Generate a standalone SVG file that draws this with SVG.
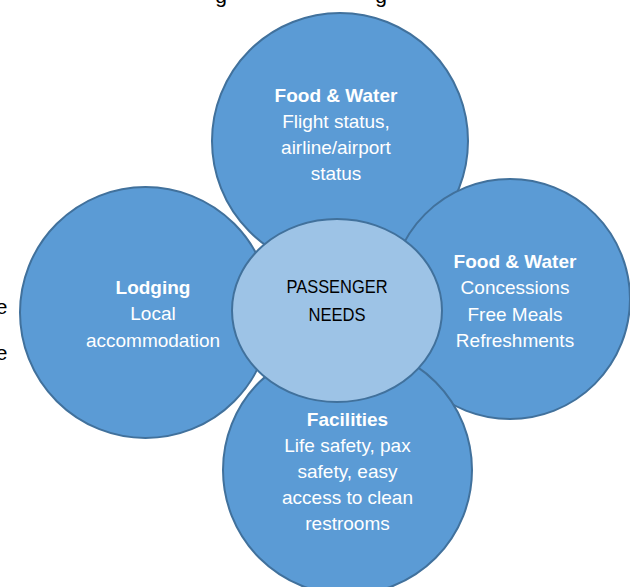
<svg xmlns="http://www.w3.org/2000/svg" width="630" height="587" viewBox="0 0 630 587">
<style>
.sat{fill:#5B9BD5;stroke:#41719C;stroke-width:2}
.hub{fill:#9DC3E6;stroke:#41719C;stroke-width:2}
.t{font-family:"Liberation Sans",Arial,sans-serif;font-size:19px;fill:#FFFFFF;text-anchor:middle}
.b{font-weight:bold}
.c{font-family:"Liberation Sans",Arial,sans-serif;font-size:18px;fill:#000000;text-anchor:middle}
.doc{font-family:"Liberation Sans",Arial,sans-serif;font-size:21px;fill:#000000}
</style>
<rect width="630" height="587" fill="#FFFFFF"/>
<g id="page-text">
<text class="doc" x="221" y="3" text-anchor="middle">g</text>
<text class="doc" x="381" y="3" text-anchor="middle">g</text>
<text class="doc" x="7.5" y="314" text-anchor="end">e</text>
<text class="doc" x="7.5" y="360" text-anchor="end">e</text>
</g>
<g id="connectors"></g>
<g id="node-left">
<circle class="sat" cx="145.5" cy="312.5" r="125.5"/>
<text class="t b" x="153" y="293.5">Lodging</text>
<text class="t" x="153" y="320">Local</text>
<text class="t" x="153" y="346.5">accommodation</text>
</g>
<g id="node-top">
<circle class="sat" cx="340" cy="141" r="128"/>
<text class="t b" x="336" y="102">Food &amp; Water</text>
<text class="t" x="336" y="128">Flight status,</text>
<text class="t" x="336" y="154">airline/airport</text>
<text class="t" x="336" y="180">status</text>
</g>
<g id="node-right">
<circle class="sat" cx="510" cy="299" r="120"/>
<text class="t b" x="515" y="268">Food &amp; Water</text>
<text class="t" x="515" y="294">Concessions</text>
<text class="t" x="515" y="320.5">Free Meals</text>
<text class="t" x="515" y="346.5">Refreshments</text>
</g>
<g id="node-bottom">
<circle class="sat" cx="347.5" cy="470" r="124.5"/>
<text class="t b" x="347.5" y="426">Facilities</text>
<text class="t" x="347.5" y="452">Life safety, pax</text>
<text class="t" x="347.5" y="478">safety, easy</text>
<text class="t" x="347.5" y="504">access to clean</text>
<text class="t" x="347.5" y="530">restrooms</text>
</g>
<g id="node-center">
<ellipse class="hub" cx="337" cy="310.5" rx="105" ry="91.5"/>
<text class="c" x="337" y="293" textLength="101" lengthAdjust="spacingAndGlyphs">PASSENGER</text>
<text class="c" x="337" y="321" textLength="57" lengthAdjust="spacingAndGlyphs">NEEDS</text>
</g>
</svg>
